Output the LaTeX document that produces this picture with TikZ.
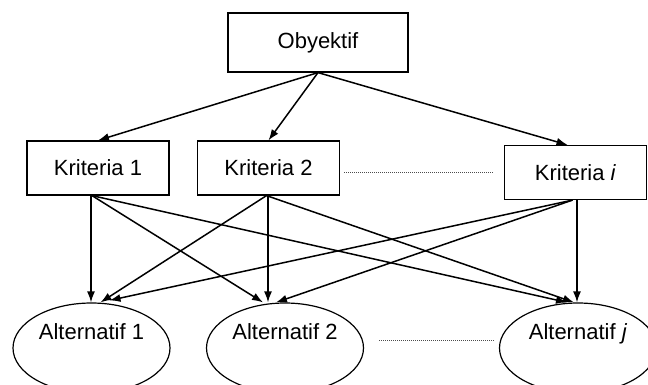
\documentclass[tikz,border=0pt]{standalone}
\usepackage{fontspec}
\setmainfont{Liberation Sans}
\usepackage{tikz}
\usetikzlibrary{arrows.meta, shapes.geometric}

\tikzset{
	kbox/.style={draw, line width=1.2pt, minimum width=142pt, minimum height=54pt},
	altnode/.style={ellipse, draw, line width=1.2pt, minimum width=157pt, minimum height=90pt},
	link/.style={->, line width=1.5pt},
	gap/.style={densely dotted, line width=1pt, gray!60!black}
}

\begin{document}
\begin{tikzpicture}[x=1pt, y=-1pt, >={Latex[length=11pt,width=8pt]}, inner sep=0pt, font=\fontsize{22}{26}\selectfont]
			\useasboundingbox (0,0) rectangle (648,385);
			
			\node[kbox, minimum width=180pt, minimum height=59pt] (obj) at (318,42.5) {Obyektif};
			
			\node[kbox] (k1) at (98,168) {Kriteria 1};
			\node[kbox] (k2) at (268.5,168) {Kriteria 2};
			\node[kbox] (ki) at (575.5,172.5) {Kriteria \textit{i}};
			
			\node[altnode, label={[yshift=14pt, text depth=5pt]center:Alternatif 1}] (a1) at (91.5,348) {};
			\node[altnode, label={[yshift=14pt, text depth=5pt]center:Alternatif 2}] (a2) at (285,348) {};
			\node[altnode, label={[yshift=14pt, text depth=5pt]center:Alternatif \textit{j}}] (aj) at (578,348) {};
			
			\draw[gap] ([xshift=4pt,yshift=-5pt]k2.east) -- ([xshift=-10pt,yshift=-0.5pt]ki.west);
			\draw[gap] ([xshift=15pt,yshift=8pt]a2.east) -- ([xshift=-5pt,yshift=8pt]aj.west);
			
			\draw[link](obj.south) -- (k1.north);
			\draw[link](obj.south) -- (k2.north);
			\draw[link](obj.south) -- ([xshift=-8pt]ki.north);
			
			\draw[link]([xshift=-7pt]k1.south) -- ([xshift=-0.5pt]a1.north);
			\draw[link]([xshift=-6pt]k1.south) -- ([xshift=-22pt]a2.north);
			\draw[link]([xshift=-6pt]k1.south) -- ([xshift=-11pt]aj.north);
			
			\draw[link]([xshift=-2pt]k2.south) -- ([xshift=9pt]a1.north);
			\draw[link]([xshift=-0.5pt]k2.south) -- ([xshift=-17pt]a2.north);
			\draw[link]([xshift=-2pt]k2.south) -- ([xshift=-4pt]aj.north);
			
			\draw[link]([xshift=-3pt]ki.south) -- ([xshift=18pt,yshift=2pt]a1.north);
			\draw[link]([xshift=-3pt]ki.south) -- ([xshift=-9pt]a2.north);
			\draw[link]([xshift=1.5pt]ki.south) -- ([xshift=-1pt]aj.north);
		\end{tikzpicture}
\end{document}
